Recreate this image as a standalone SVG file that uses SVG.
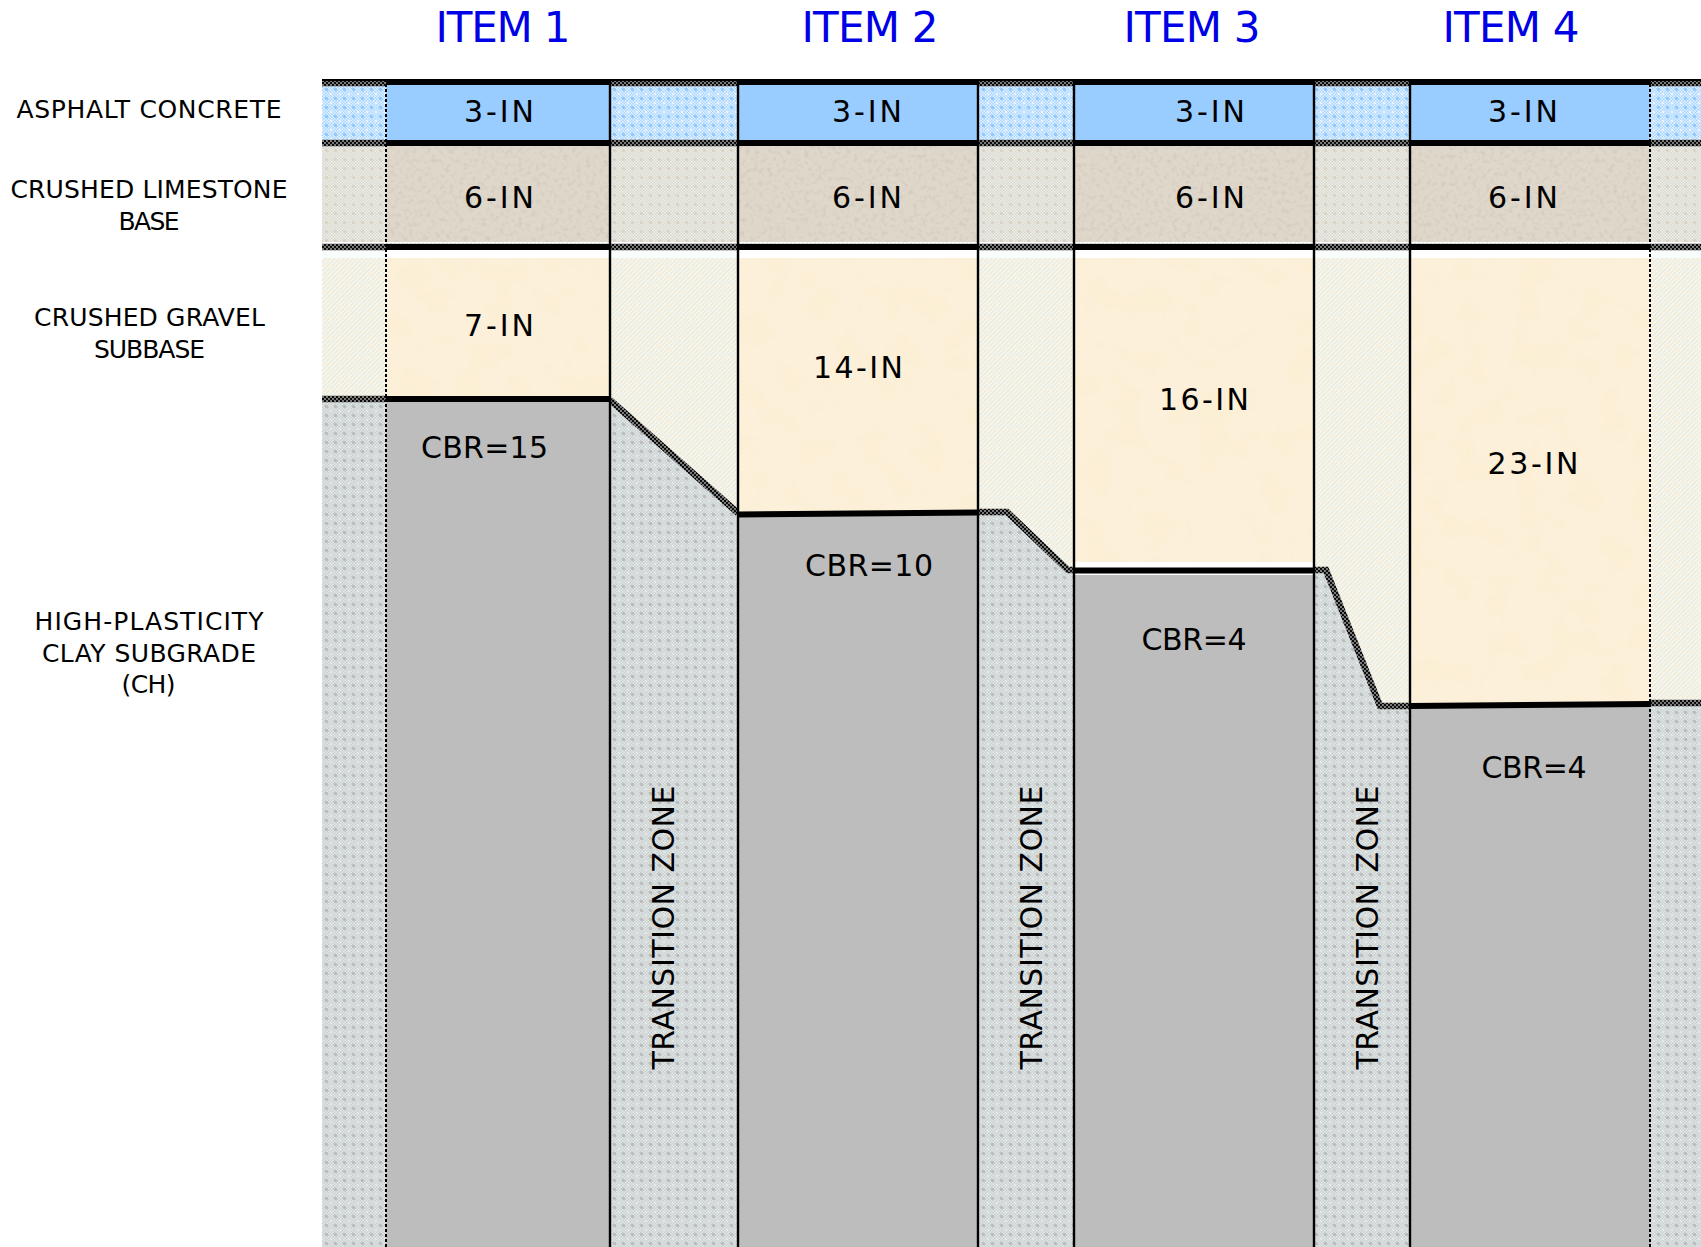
<svg xmlns="http://www.w3.org/2000/svg" width="1701" height="1247" viewBox="0 0 1701 1247">
<style>
text{font-family:"DejaVu Sans","Liberation Sans",sans-serif;fill:#000;text-anchor:middle}
.item{font-size:42px;fill:#0000e6}
.layer{font-size:25px}
.val{font-size:30px}
.tz{font-size:30px}
.v{stroke:#000;stroke-width:2.4;fill:none}
.d{stroke:#000;stroke-width:2;stroke-dasharray:3 2;fill:none}
.k{stroke:#000;stroke-width:6;fill:none}
.zl{stroke:url(#pk);stroke-width:6.5;fill:none}
.zt{stroke:#000;stroke-width:2;fill:none}
</style>
<defs>
<path id="ck" d="M0 0h1.5v1.5H0zM3 0h1.5v1.5H3zM6 0h1.5v1.5H6zM1.5 1.5h1.5v1.5H1.5zM4.5 1.5h1.5v1.5H4.5zM7.5 1.5h1.5v1.5H7.5zM0 3h1.5v1.5H0zM3 3h1.5v1.5H3zM6 3h1.5v1.5H6zM1.5 4.5h1.5v1.5H1.5zM4.5 4.5h1.5v1.5H4.5zM7.5 4.5h1.5v1.5H7.5zM0 6h1.5v1.5H0zM3 6h1.5v1.5H3zM6 6h1.5v1.5H6zM1.5 7.5h1.5v1.5H1.5zM4.5 7.5h1.5v1.5H4.5zM7.5 7.5h1.5v1.5H7.5z"/>
<pattern id="pk" width="4" height="4" patternUnits="userSpaceOnUse"><rect width="4" height="4" fill="#7a7a7a"/><path d="M0 0h2v2H0zM2 2h2v2H2z" fill="#0c0c0c"/></pattern>
<pattern id="pA" width="9" height="9" patternUnits="userSpaceOnUse" x="322" y="85"><rect width="9" height="9" fill="#a6d3ff"/><use href="#ck" fill="#e6f3ff"/><circle cx="4.5" cy="4.5" r="1.7" fill="#8fc8ff"/><circle cx="0" cy="0" r=".9" fill="#fff"/><circle cx="9" cy="0" r=".9" fill="#fff"/><circle cx="0" cy="9" r=".9" fill="#fff"/><circle cx="9" cy="9" r=".9" fill="#fff"/></pattern>
<pattern id="pB" width="9" height="9" patternUnits="userSpaceOnUse" x="322" y="146"><rect width="9" height="9" fill="#dad8cf"/><use href="#ck" fill="#eeeee8"/><circle cx="4.5" cy="4.5" r="1.6" fill="#dbd2c4"/></pattern>
<pattern id="pC" width="9" height="9" patternUnits="userSpaceOnUse" x="322" y="258"><rect width="9" height="9" fill="#f9f5e8"/><path d="M0 4.5L4.5 0M4.5 9L9 4.5M0 9L9 0" stroke="#e2ece8" stroke-width="1.2"/><circle cx="6.7" cy="2.2" r="1.3" fill="#faecd4"/><circle cx="2.2" cy="6.7" r="1.3" fill="#faecd4"/></pattern>
<pattern id="pD" width="9" height="9" patternUnits="userSpaceOnUse" x="322" y="402"><rect width="9" height="9" fill="#c8cece"/><use href="#ck" fill="#e2e8e8"/><circle cx="4.5" cy="4.5" r="1.8" fill="#bcbcbc"/><circle cx="0" cy="0" r=".8" fill="#f4f8f8"/><circle cx="9" cy="0" r=".8" fill="#f4f8f8"/><circle cx="0" cy="9" r=".8" fill="#f4f8f8"/><circle cx="9" cy="9" r=".8" fill="#f4f8f8"/></pattern>
<filter id="nB" x="0" y="0" width="1" height="1"><feTurbulence type="fractalNoise" baseFrequency="0.22" numOctaves="2" seed="7"/><feColorMatrix values="0 0 0 0 .58  0 0 0 0 .53  0 0 0 0 .46  1.5 0 0 0 -.72"/></filter>
<filter id="nC" x="0" y="0" width="1" height="1"><feTurbulence type="fractalNoise" baseFrequency="0.035" numOctaves="3" seed="3"/><feColorMatrix values="0 0 0 0 .95  0 0 0 0 .85  0 0 0 0 .62  1.4 0 0 0 -.6"/></filter>
</defs>
<rect width="1701" height="1247" fill="#fff"/>

<g id="zones">
<path fill="url(#pA)" d="M322 85H1701V140H322z"/>
<path fill="url(#pB)" d="M322 146H1701V242H322z"/>
<rect x="322" y="250" width="1379" height="8" fill="#f8fcfb"/>
<path fill="url(#pC)" d="M322 258H1701V706H322z"/>
<path fill="url(#pD)" d="M322 400H611L738 513V1247H322z"/>
<path fill="url(#pD)" d="M978 512H1007L1068 570H1074V1247H978z"/>
<path fill="url(#pD)" d="M1314 570H1326L1380 706H1410V1247H1314z"/>
<path fill="url(#pD)" d="M1650 703H1701V1247H1650z"/>
</g>

<g id="zone-lines">
<path class="zl" d="M322 83H1701M322 143H1701M322 247H1701M322 399H386M610 400L738 513M978 512H1007L1068 570H1074M1314 570H1326L1380 706H1410M1650 703H1701"/>
<path class="zt" d="M322 80H1701"/>
</g>

<g id="item1-column">
<rect x="386" y="85" width="224" height="55" fill="#99ccff"/>
<rect x="386" y="146" width="224" height="96" fill="#dfd7ca"/><rect x="386" y="146" width="224" height="96" filter="url(#nB)"/>
<rect x="386" y="250" width="224" height="8" fill="#fff"/>
<rect x="386" y="258" width="224" height="138" fill="#fdf0da"/><rect x="386" y="258" width="224" height="138" filter="url(#nC)"/>
<rect x="386" y="402" width="224" height="845" fill="#bdbdbd"/>
</g>
<g id="item2-column">
<rect x="738" y="85" width="240" height="55" fill="#99ccff"/>
<rect x="738" y="146" width="240" height="96" fill="#dfd7ca"/><rect x="738" y="146" width="240" height="96" filter="url(#nB)"/>
<rect x="738" y="250" width="240" height="8" fill="#fff"/>
<rect x="738" y="258" width="240" height="254" fill="#fdf0da"/><rect x="738" y="258" width="240" height="254" filter="url(#nC)"/>
<rect x="738" y="513" width="240" height="734" fill="#bdbdbd"/>
</g>
<g id="item3-column">
<rect x="1074" y="85" width="240" height="55" fill="#99ccff"/>
<rect x="1074" y="146" width="240" height="96" fill="#dfd7ca"/><rect x="1074" y="146" width="240" height="96" filter="url(#nB)"/>
<rect x="1074" y="250" width="240" height="8" fill="#fff"/>
<rect x="1074" y="258" width="240" height="304" fill="#fdf0da"/><rect x="1074" y="258" width="240" height="304" filter="url(#nC)"/>
<rect x="1074" y="562" width="240" height="13" fill="#fff"/>
<rect x="1074" y="575" width="240" height="672" fill="#bdbdbd"/>
</g>
<g id="item4-column">
<rect x="1410" y="85" width="240" height="55" fill="#99ccff"/>
<rect x="1410" y="146" width="240" height="96" fill="#dfd7ca"/><rect x="1410" y="146" width="240" height="96" filter="url(#nB)"/>
<rect x="1410" y="250" width="240" height="8" fill="#fff"/>
<rect x="1410" y="258" width="240" height="448" fill="#fdf0da"/><rect x="1410" y="258" width="240" height="448" filter="url(#nC)"/>
<rect x="1410" y="704" width="240" height="543" fill="#bdbdbd"/>
</g>

<g id="lines">
<path class="k" d="M386 82H610M738 82H978M1074 82H1314M1410 82H1650M386 143H610M738 143H978M1074 143H1314M1410 143H1650M386 247H610M738 247H978M1074 247H1314M1410 247H1650M386 399H610M738 514.5L978 512.5M1074 570.5H1314M1410 706L1650 704"/>
<path class="v" d="M610 79V1247M738 79V1247M978 79V1247M1074 79V1247M1314 79V1247M1410 79V1247"/>
<path class="d" d="M386 79V1247M1650 79V1247"/>
</g>

<g id="headers">
<text class="item" x="503" y="42" textLength="135">ITEM 1</text>
<text class="item" x="870" y="42" textLength="137">ITEM 2</text>
<text class="item" x="1192" y="42" textLength="137">ITEM 3</text>
<text class="item" x="1511" y="42" textLength="137">ITEM 4</text>
</g>
<g id="layer-labels">
<text class="layer" x="149" y="117.5" textLength="265">ASPHALT CONCRETE</text>
<text class="layer" x="149" y="197.5" textLength="277">CRUSHED LIMESTONE</text>
<text class="layer" x="149" y="229.5" textLength="61">BASE</text>
<text class="layer" x="149.5" y="325.5" textLength="231">CRUSHED GRAVEL</text>
<text class="layer" x="149.5" y="357.5" textLength="111">SUBBASE</text>
<text class="layer" x="149" y="629.5" textLength="229">HIGH-PLASTICITY</text>
<text class="layer" x="149" y="661.5" textLength="214">CLAY SUBGRADE</text>
<text class="layer" x="148.5" y="692.5" textLength="54">(CH)</text>
</g>
<g id="values">
<text class="val" x="499" y="122" textLength="70">3-IN</text>
<text class="val" x="867" y="122" textLength="70">3-IN</text>
<text class="val" x="1210" y="122" textLength="70">3-IN</text>
<text class="val" x="1523" y="122" textLength="70">3-IN</text>
<text class="val" x="499" y="208" textLength="70">6-IN</text>
<text class="val" x="867" y="208" textLength="70">6-IN</text>
<text class="val" x="1210" y="208" textLength="70">6-IN</text>
<text class="val" x="1523" y="208" textLength="70">6-IN</text>
<text class="val" x="499" y="336" textLength="70">7-IN</text>
<text class="val" x="858" y="378" textLength="90">14-IN</text>
<text class="val" x="1204" y="410" textLength="90">16-IN</text>
<text class="val" x="1533" y="474" textLength="91">23-IN</text>
<text class="val" x="484.5" y="458" textLength="127">CBR=15</text>
<text class="val" x="869" y="576" textLength="128">CBR=10</text>
<text class="val" x="1194" y="650" textLength="105">CBR=4</text>
<text class="val" x="1534" y="778" textLength="105">CBR=4</text>
</g>
<g id="transition-labels">
<text class="tz" transform="translate(674 927.5) rotate(-90)" textLength="284">TRANSITION ZONE</text>
<text class="tz" transform="translate(1042 927.5) rotate(-90)" textLength="284">TRANSITION ZONE</text>
<text class="tz" transform="translate(1378 927.5) rotate(-90)" textLength="284">TRANSITION ZONE</text>
</g>
</svg>
